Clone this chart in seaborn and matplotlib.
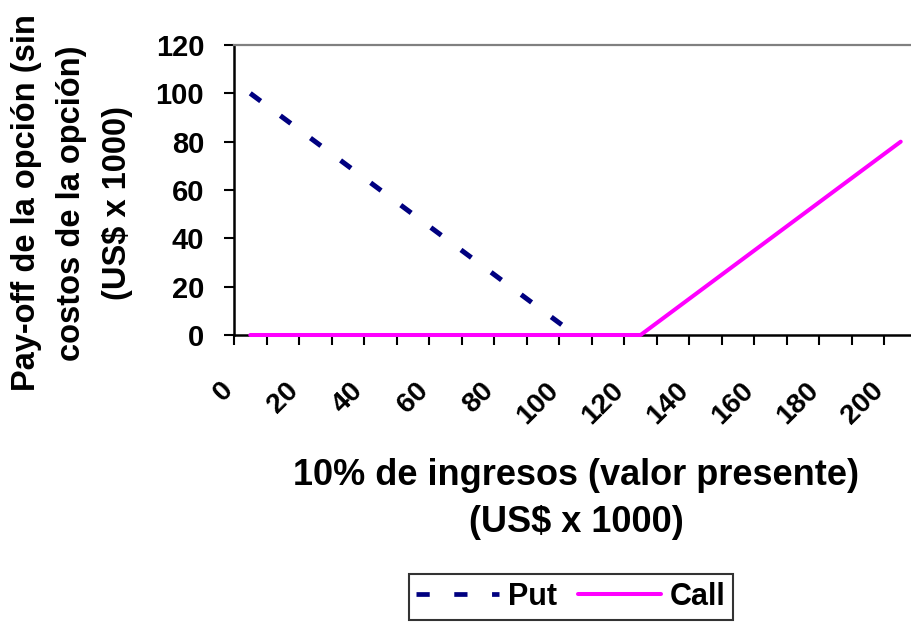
import matplotlib
matplotlib.use("Agg")
import matplotlib.pyplot as plt
import matplotlib.transforms as mtransforms
from matplotlib.lines import Line2D
import seaborn as sns
import pandas as pd
import numpy as np

# chart data
ingresos = [0, 10, 20, 30, 40, 50, 60, 70, 80, 90, 100,
            110, 120, 130, 140, 150, 160, 170, 180, 190, 200]
put = [100, 90, 80, 70, 60, 50, 40, 30, 20, 10, 0,
       np.nan, np.nan, np.nan, np.nan, np.nan, np.nan, np.nan, np.nan, np.nan, np.nan]
call = [0, 0, 0, 0, 0, 0, 0, 0, 0, 0, 0,
        0, 0, 10, 20, 30, 40, 50, 60, 70, 80]
y_ticks = [0, 20, 40, 60, 80, 100, 120]

df = pd.DataFrame({"pos": range(len(ingresos)), "ingresos": ingresos,
                   "Put": put, "Call": call})

sns.set_style("white")
plt.rcParams["font.family"] = ["Liberation Sans", "DejaVu Sans"]
plt.rcParams["font.weight"] = "bold"
for key in ["text.color", "axes.labelcolor", "xtick.color", "ytick.color"]:
    plt.rcParams[key] = "black"

fig = plt.figure(figsize=(9.11, 6.23), dpi=100)
ax = fig.add_axes([234 / 911, 1 - 335 / 623, 683 / 911, 290 / 623])

navy = "#000080"
magenta = "#FF00FF"
sns.lineplot(data=df, x="pos", y="Put", ax=ax, color=navy, linewidth=3.6,
             linestyle=(0, (2.6, 4.9)), dash_capstyle="butt", label="Put",
             zorder=3)
sns.lineplot(data=df, x="pos", y="Call", ax=ax, color=magenta, linewidth=2.9,
             label="Call", zorder=4, clip_on=False)

ax.set_xlim(-0.5, len(ingresos) - 0.5)
ax.set_ylim(0, 120)
ax.set_yticks(y_ticks)
ax.set_yticklabels([str(v) for v in y_ticks], fontsize=21, fontweight="bold")

# category labels every second category, ticks between categories
label_pos = list(range(0, len(ingresos), 2))
ax.set_xticks(label_pos)
ax.set_xticklabels([str(ingresos[i]) for i in label_pos], fontsize=20.5,
                   fontweight="bold", rotation=45, ha="right", va="center",
                   rotation_mode="anchor")
ax.set_xticks([i - 0.5 for i in range(len(ingresos) + 1)], minor=True)
ax.tick_params(axis="x", which="major", length=0, pad=37)
ax.tick_params(axis="x", which="minor", length=7.5, width=1.5, color="black",
               direction="out", bottom=True)
ax.tick_params(axis="y", which="major", length=7.5, width=1.5, color="black",
               direction="out", left=True, pad=14)
shift = mtransforms.ScaledTranslation(-0.21, 0, fig.dpi_scale_trans)
for lab in ax.get_xticklabels():
    lab.set_transform(lab.get_transform() + shift)

for side in ["left", "bottom"]:
    ax.spines[side].set_color("black")
    ax.spines[side].set_linewidth(1.8)
ax.spines["right"].set_visible(False)
ax.spines["top"].set_color("#808080")
ax.spines["top"].set_linewidth(1.6)

ax.set_xlabel("")
ax.set_ylabel("")
fig.text(576 / 911, 1 - 499 / 623,
         "10% de ingresos (valor presente)\n(US$ x 1000)",
         ha="center", va="center", fontsize=26, fontweight="bold",
         multialignment="center", linespacing=1.42)
fig.text(72 / 911, 1 - 203 / 623,
         "Pay-off de la opción (sin\ncostos de la opción)\n(US$ x 1000)",
         ha="center", va="center", rotation=90, fontsize=23.5,
         fontweight="bold", multialignment="center", linespacing=1.62)

handles = [Line2D([], [], color=navy, linewidth=3.4, linestyle=(0, (2.8, 5.2)),
                  dash_capstyle="butt"),
           Line2D([], [], color=magenta, linewidth=2.9)]
leg = fig.legend(handles, ["Put", "Call"], loc="center",
                 bbox_to_anchor=(571 / 911, 1 - 597 / 623), ncol=2,
                 frameon=True, fancybox=False,
                 prop={"weight": "bold", "size": 22}, handlelength=2.7,
                 handletextpad=0.3, columnspacing=0.7, borderpad=0.25,
                 borderaxespad=0)
leg.get_frame().set_edgecolor("black")
leg.get_frame().set_linewidth(1.5)
if ax.get_legend() is not None:
    ax.get_legend().remove()

fig.savefig("out.png", dpi=100)
